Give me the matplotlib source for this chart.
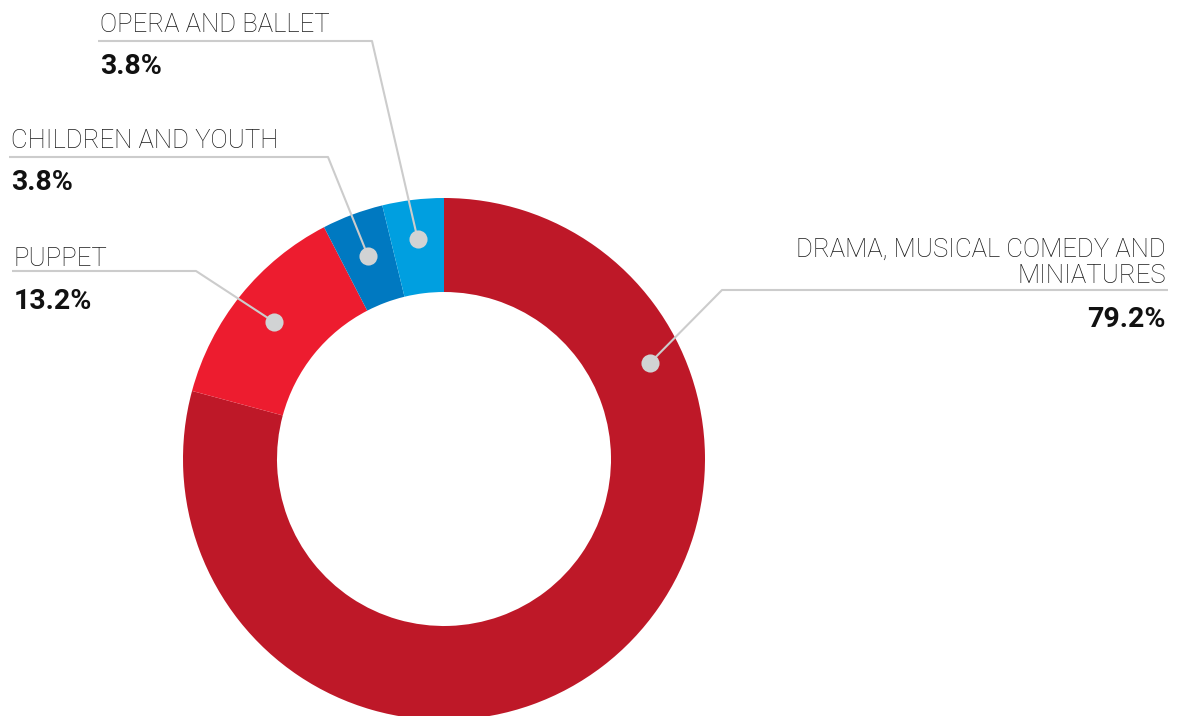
import numpy as np
import matplotlib.pyplot as plt

categories = ['DRAMA, MUSICAL COMEDY AND\nMINIATURES', 'PUPPET', 'CHILDREN AND YOUTH', 'OPERA AND BALLET']
shares = [79.2, 13.2, 3.8, 3.8]
colors = ['#BE1828', '#ED1C2F', '#0079C1', '#009FE0']

W, H = 1185, 716
CX, CY, R = 444, 459, 261      # donut centre and outer radius in pixels
R_IN = 167

def px(x, y):
    # figure pixels (from top-left) -> data units
    return (x - CX) / R, (CY - y) / R

fig = plt.figure(figsize=(W / 100, H / 100), dpi=100)
ax = fig.add_axes([0, 0, 1, 1])

wedges, _ = ax.pie(shares, colors=colors, startangle=90, counterclock=False, radius=1,
                   wedgeprops=dict(width=(R - R_IN) / R, linewidth=0))
ax.set_xlim(-CX / R, (W - CX) / R)
ax.set_ylim(-(H - CY) / R, CY / R)
ax.set_aspect('equal')
ax.axis('off')

# where on each wedge the leader dot sits (fraction along wedge from the top, radius)
anchor = [(0.228, 0.87), (0.5, 0.835), (0.5, 0.83), (0.5, 0.85)]
# label layout: text x, first baseline, align, leader y, leader start x, elbow x, percent baseline
layout = [
    (1166, 257, 'right', 290, 1168, 722, 327),
    (14, 266, 'left', 271, 12, 196, 309),
    (11, 148, 'left', 157, 9, 328, 190),
    (100, 31.7, 'left', 41, 98, 372, 74),
]

label_font = dict(family='Roboto', weight='light', size=18.5, color='#1a1a1a')
pct_font = dict(family='Roboto', weight='bold', size=20.5, color='#111111')

for w, cat, val, (frac, rr), lay in zip(wedges, categories, shares, anchor, layout):
    tx, ty, ha, ly, lx0, ex, py = lay
    # counterclock=False: wedge runs from theta2 (top side) down to theta1
    ang = np.deg2rad(w.theta2 + frac * (w.theta1 - w.theta2))
    dx, dy = rr * np.cos(ang), rr * np.sin(ang)
    x0, y0 = px(lx0, ly)
    x1, y1 = px(ex, ly)
    ax.plot([x0, x1, dx], [y0, y1, dy], color='#cccccc', lw=1.5, solid_capstyle='butt', zorder=3)
    ax.scatter([dx], [dy], s=170, color='#d1d3d4', zorder=4, linewidths=0)
    for k, line in enumerate(cat.split('\n')):
        lx, lyy = px(tx, ty + k * 26)
        ax.text(lx, lyy, line, ha=ha, va='baseline', **label_font)
    pxx, pyy = px(tx, py)
    ax.text(pxx, pyy, f'{val:.1f}%', ha=ha, va='baseline', **pct_font)

plt.savefig('out.png', dpi=100)
